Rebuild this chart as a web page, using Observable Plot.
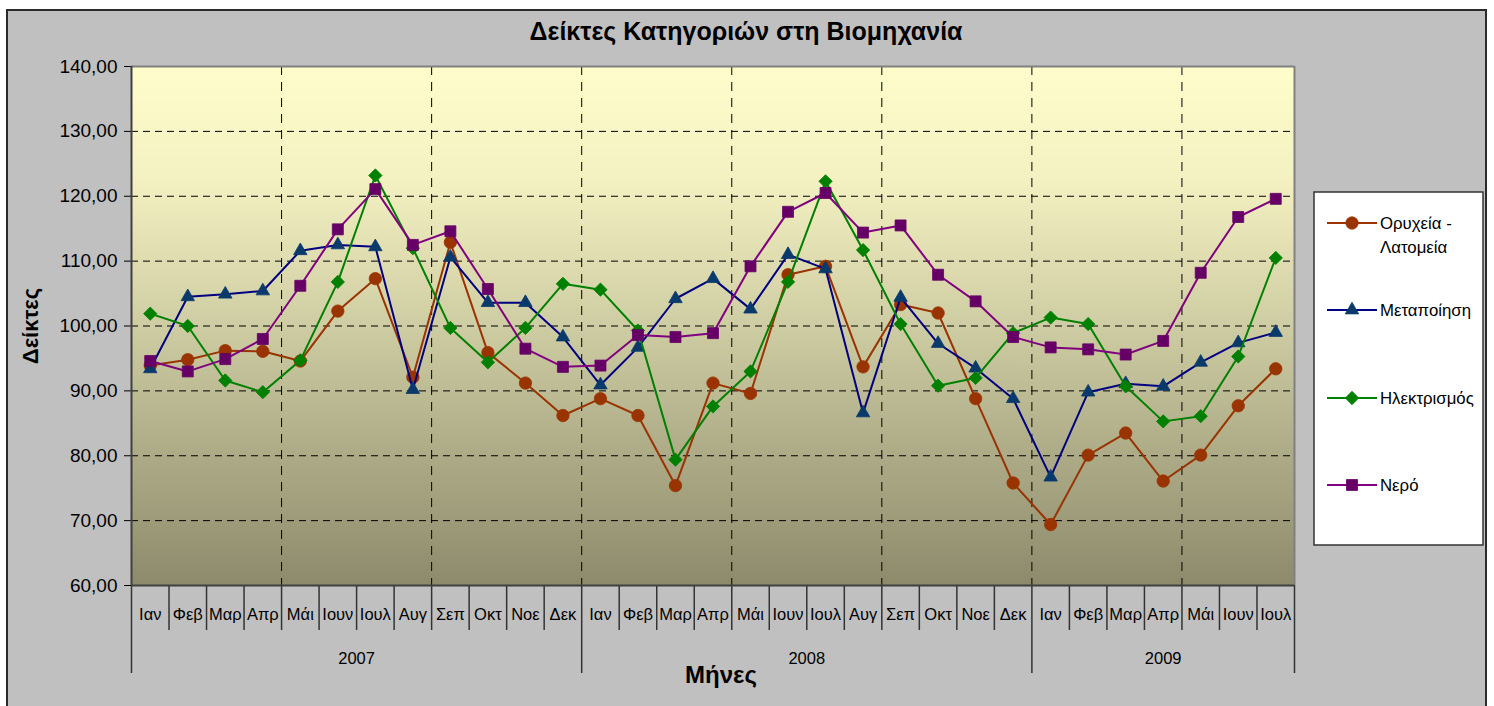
<!DOCTYPE html>
<html>
<head>
<meta charset="utf-8">
<script src="https://cdn.jsdelivr.net/npm/d3@7"></script>
<script src="https://cdn.jsdelivr.net/npm/@observablehq/plot@0.6"></script>
<style>
  html, body { margin: 0; padding: 0; background: #ffffff; }
  body { width: 1494px; height: 706px; overflow: hidden; position: relative; font-family: "Liberation Sans", Arial, sans-serif; }
  #frame { position: absolute; left: 6px; top: 9px; width: 1477px; height: 705px; background: #c0c0c0; border: 2px solid #2a2a2a; }
  #chart { position: absolute; left: 0; top: 0; }
</style>
</head>
<body>
<div id="frame"></div>
<div id="chart"></div>
<script>
// ---- data ----
const monthNames = ["Ιαν","Φεβ","Μαρ","Απρ","Μάι","Ιουν","Ιουλ","Αυγ","Σεπ","Οκτ","Νοε","Δεκ"];
const years = ["2007","2008","2009"];
const monthsPerYear = [12, 12, 7];
const seriesNames = ["Ορυχεία - Λατομεία","Μεταποίηση","Ηλεκτρισμός","Νερό"];
const mining = [93.9,94.8,96.2,96.1,94.6,102.3,107.3,92.1,112.9,95.9,91.2,86.2,
                88.8,86.2,75.4,91.2,89.6,107.9,109.2,93.7,103.3,102.0,88.8,75.8,
                69.4,80.1,83.5,76.1,80.1,87.7,93.4];
const manufacturing = [93.4,104.5,104.9,105.4,111.6,112.5,112.2,90.2,110.6,103.6,103.6,98.3,
                90.9,96.7,104.2,107.3,102.6,111.0,108.8,86.6,104.4,97.3,93.5,88.8,
                76.7,89.8,91.1,90.7,94.4,97.4,99.0];
const electricity = [101.9,100.0,91.6,89.8,94.7,106.8,123.2,112.0,99.7,94.4,99.7,106.5,
                105.6,99.3,79.4,87.6,93.0,106.8,122.3,111.7,100.3,90.8,92.0,98.9,
                101.3,100.3,90.7,85.3,86.1,95.3,110.5];
const water = [94.6,93.0,94.9,98.0,106.2,114.9,121.1,112.5,114.6,105.7,96.5,93.7,
                93.9,98.6,98.3,98.9,109.2,117.6,120.5,114.4,115.5,107.9,103.8,98.3,
                96.7,96.4,95.6,97.7,108.2,116.8,119.6];
const yTicks = [60,70,80,90,100,110,120,130,140];

// ---- derived tables ----
const categories = [];
years.forEach((yr, k) => { for (let m = 0; m < monthsPerYear[k]; m++) categories.push({year: yr, month: monthNames[m]}); });
const nCat = categories.length;
const catData = categories.map((c, i) => ({i, pos: i + 0.5, label: c.month}));
const yearStarts = [];
{ let s = 0; years.forEach((yr, k) => { yearStarts.push({year: yr, start: s, end: s + monthsPerYear[k], mid: s + monthsPerYear[k] / 2}); s += monthsPerYear[k]; }); }
const yearBounds = [0, ...yearStarts.map(d => d.end)];
const monthBounds = d3.range(1, nCat).filter(b => !yearBounds.includes(b));
const gridX = d3.range(4, nCat, 4);

const styles = [
  {line: "#993300", fill: "#993300", symbol: "circle", r: 6.2},
  {line: "#000080", fill: "#0a3a6b", symbol: "triangle", r: 5.0},
  {line: "#008000", fill: "#008000", symbol: "diamond2", r: 6.0},
  {line: "#800080", fill: "#660066", symbol: "square", r: 6.2}
];
const allSeries = [mining, manufacturing, electricity, water];
const rows = allSeries.map((vals, s) => vals.map((v, i) => ({series: seriesNames[s], pos: i + 0.5, value: v})));

const fmt = d => d.toFixed(2).replace(".", ",");

const defs = () => {
  const d = d3.create("svg:defs");
  const g = d.append("linearGradient").attr("id", "bg").attr("x1", 0).attr("y1", 0).attr("x2", 0).attr("y2", 1);
  g.append("stop").attr("offset", "0%").attr("stop-color", "#fefdcb");
  g.append("stop").attr("offset", "22%").attr("stop-color", "#f3f1c1");
  g.append("stop").attr("offset", "100%").attr("stop-color", "#8c8a6b");
  return d.node();
};

const seriesMarks = rows.flatMap((data, s) => [
  Plot.line(data, {x: "pos", y: "value", stroke: styles[s].line, strokeWidth: 2}),
  Plot.dot(data, {x: "pos", y: "value", symbol: styles[s].symbol, r: styles[s].r, fill: styles[s].fill, stroke: styles[s].fill, strokeWidth: 0.8})
]);

const plot = Plot.plot({
  width: 1494,
  height: 706,
  marginLeft: 131,
  marginRight: 200,
  marginTop: 66,
  marginBottom: 121,
  style: {background: "none", fontFamily: "'Liberation Sans', Arial, sans-serif", fontSize: "19px", color: "#000"},
  x: {domain: [0, nCat], axis: null},
  y: {domain: [60, 140], ticks: yTicks, tickFormat: fmt, tickSize: 7, tickPadding: 7, label: null},
  marks: [
    defs,
    Plot.frame({fill: "url(#bg)", stroke: null}),
    Plot.ruleY(yTicks.filter(d => d > 60 && d < 140), {stroke: "#000", strokeWidth: 1, strokeDasharray: "7,5"}),
    Plot.ruleX(gridX, {stroke: "#000", strokeWidth: 1, strokeDasharray: "9,7"}),
    Plot.ruleY([140], {stroke: "#808080", strokeWidth: 2}),
    Plot.ruleX([nCat], {y1: 60, y2: 140, stroke: "#808080", strokeWidth: 2}),
    // category separators below the axis
    Plot.ruleX(monthBounds, {y1: 60, y2: 60, insetBottom: -45, stroke: "#333", strokeWidth: 1.5}),
    Plot.ruleX(yearBounds, {y1: 60, y2: 60, insetBottom: -88, stroke: "#333", strokeWidth: 1.5}),
    Plot.ruleX([0], {y1: 60, y2: 140, stroke: "#404040", strokeWidth: 2}),
    Plot.ruleY([60], {stroke: "#404040", strokeWidth: 2}),
    // month and year labels
    Plot.text(catData, {x: "pos", y: () => 60, text: "label", dy: 29, fontSize: 16.5, fill: "#000"}),
    Plot.text(yearStarts, {x: "mid", y: () => 60, text: "year", dy: 73, fontSize: 16.5, fill: "#000"}),
    // titles
    Plot.text(["Δείκτες Κατηγοριών στη Βιομηχανία"], {frameAnchor: "top", lineAnchor: "middle", textAnchor: "middle", dx: 33, dy: -35, fontSize: 25, fontWeight: "bold", fill: "#000"}),
    Plot.text(["Μήνες"], {frameAnchor: "bottom", lineAnchor: "middle", textAnchor: "middle", dx: 8, dy: 90, fontSize: 24, fontWeight: "bold", fill: "#000"}),
    Plot.text(["Δείκτες"], {frameAnchor: "left", lineAnchor: "middle", textAnchor: "middle", dx: -101, rotate: -90, fontSize: 22, fontWeight: "bold", fill: "#000"}),
    ...seriesMarks
  ]
});

// ---- legend ----
const svg = d3.select(plot);
const lg = svg.append("g").attr("font-family", "'Liberation Sans', Arial, sans-serif").attr("font-size", 16.8).attr("text-anchor", "start");
lg.append("rect").attr("x", 1314).attr("y", 192).attr("width", 169).attr("height", 353)
  .attr("fill", "#ffffff").attr("stroke", "#333").attr("stroke-width", 1.5);
const legendY = [223, 310, 398, 485];
const legendLabels = [["Ορυχεία -", "Λατομεία"], ["Μεταποίηση"], ["Ηλεκτρισμός"], ["Νερό"]];
const symMap = {circle: d3.symbolCircle, triangle: d3.symbolTriangle, diamond2: d3.symbolDiamond2, square: d3.symbolSquare};
seriesNames.forEach((name, s) => {
  const y = legendY[s];
  lg.append("line").attr("x1", 1327).attr("x2", 1377).attr("y1", y).attr("y2", y)
    .attr("stroke", styles[s].line).attr("stroke-width", 2);
  lg.append("path").attr("transform", `translate(1352,${y})`)
    .attr("d", d3.symbol(symMap[styles[s].symbol], Math.PI * styles[s].r * styles[s].r)())
    .attr("fill", styles[s].fill).attr("stroke", styles[s].fill).attr("stroke-width", 0.8);
  const t = lg.append("text").attr("x", 1380).attr("y", y).attr("fill", "#000").attr("text-anchor", "start");
  legendLabels[s].forEach((ln, k) => {
    t.append("tspan").attr("x", 1380).attr("dy", k === 0 ? "0.35em" : "1.45em").text(ln);
  });
});

document.getElementById("chart").appendChild(plot);
</script>
</body>
</html>
